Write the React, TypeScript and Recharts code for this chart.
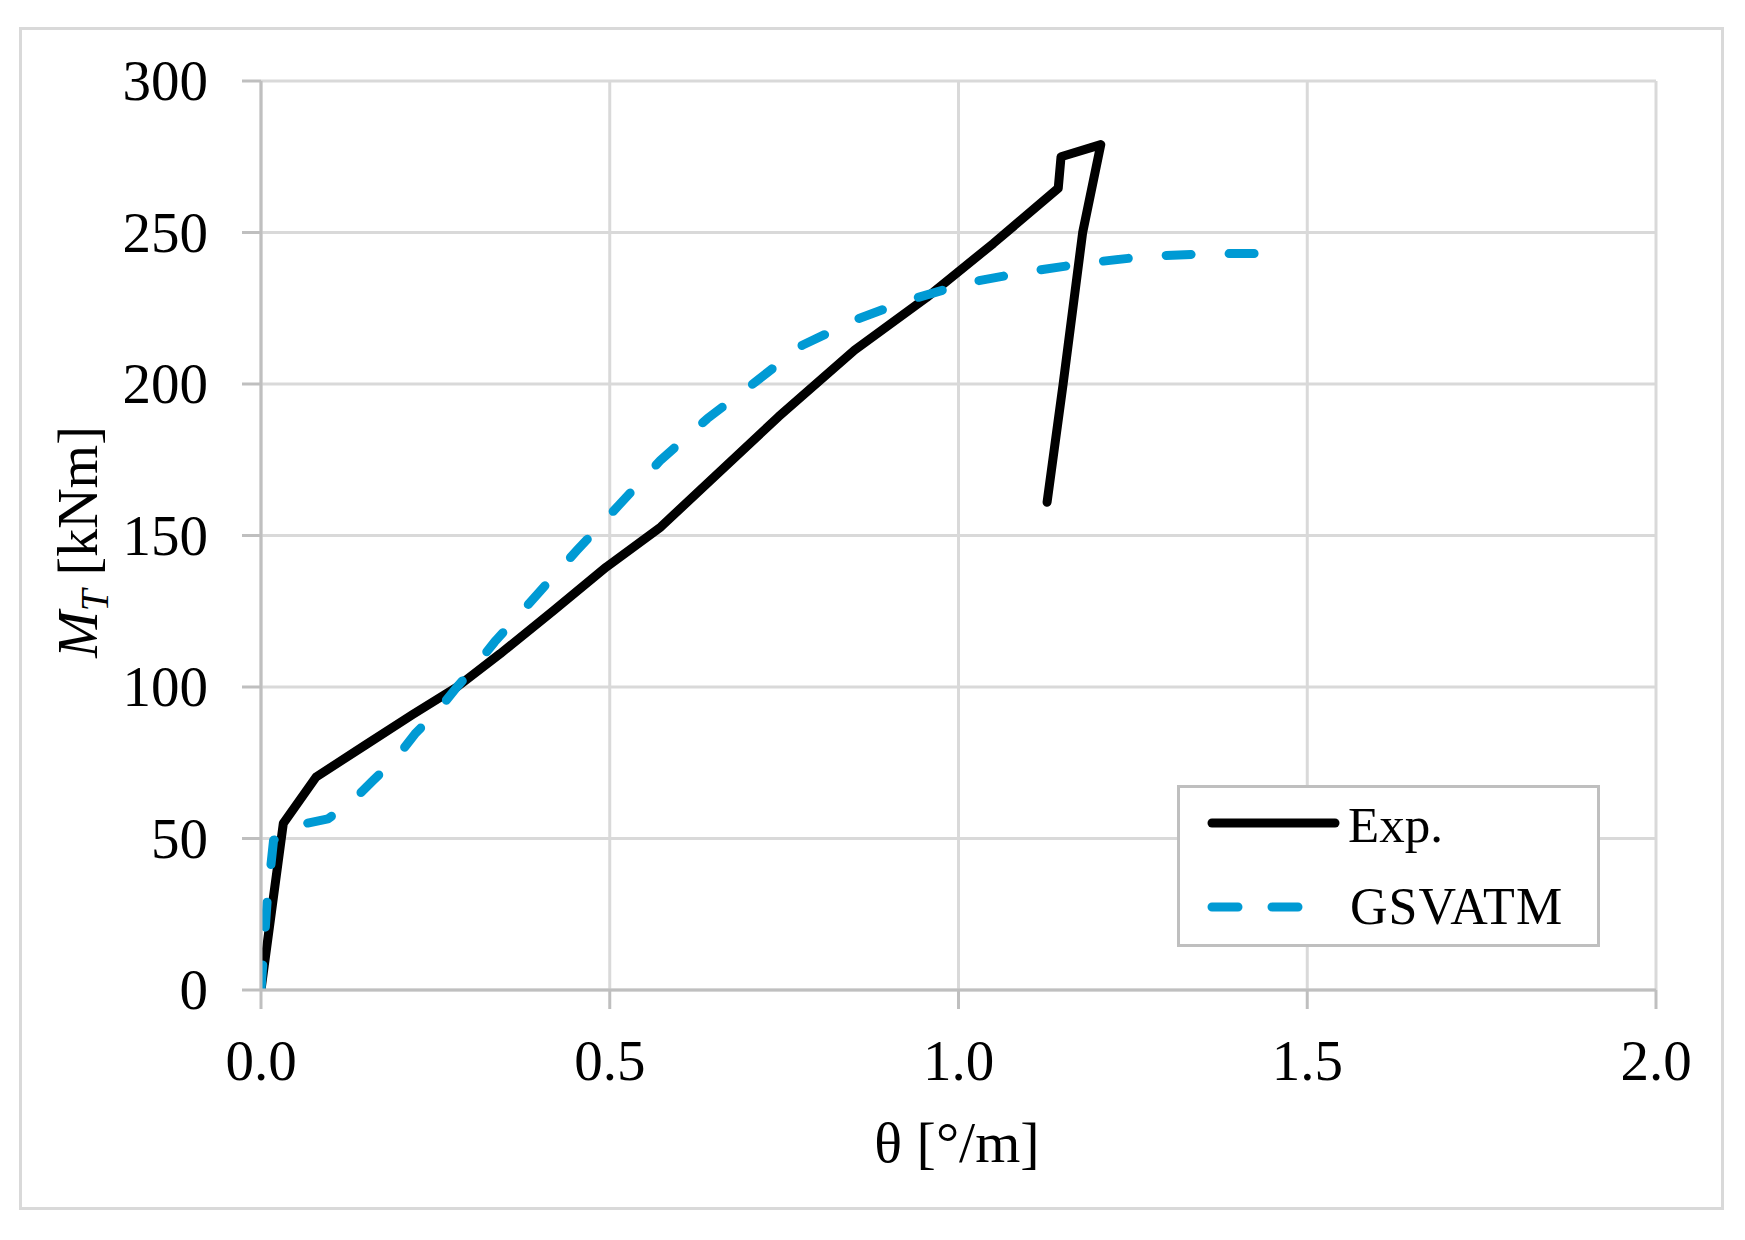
import React from "react";
import { LineChart, Line, XAxis, YAxis, CartesianGrid, Legend } from "recharts";

// axis ticks
const X_TICKS = [0, 0.5, 1, 1.5, 2];
const Y_TICKS = [0, 50, 100, 150, 200, 250, 300];

// Exp. curve (theta in deg/m, moment in kNm)
const expTheta = [
  0, 0.032, 0.079, 0.15, 0.218, 0.281, 0.343, 0.42, 0.495, 0.573, 0.65, 0.742,
  0.851, 0.954, 1.05, 1.143, 1.147, 1.204, 1.178, 1.15, 1.127,
];
const expMoment = [
  0, 55, 70.3, 80.9, 91, 100, 111, 125.3, 139.6, 152.8, 169.4, 189.2, 211.2,
  228.5, 246.4, 264.6, 275, 279, 250, 200, 161,
];

// GSVATM curve
const gsvTheta = [
  0, 0.006, 0.009, 0.018, 0.051, 0.096, 0.132, 0.161, 0.195, 0.221, 0.254,
  0.281, 0.314, 0.335, 0.395, 0.453, 0.513, 0.573, 0.64, 0.709, 0.776, 0.857,
  0.929, 1.015, 1.1, 1.186, 1.272, 1.36, 1.448,
];
const gsvMoment = [
  0, 20, 30, 49.4, 54.3, 56.5, 62.6, 69.2, 76.9, 84.6, 92.3, 100, 108.8, 114.9,
  130.3, 145.1, 160, 174.9, 188.6, 200.7, 212.8, 221.6, 227.7, 233.5, 237.1,
  240, 242.2, 243, 243.1,
];

const expData = expTheta.map((theta, i) => ({ theta, m: expMoment[i] }));
const gsvData = gsvTheta.map((theta, i) => ({ theta, m: gsvMoment[i] }));

const FONT = '"Liberation Serif", "Times New Roman", serif';
const BLUE = "#009AD4";
const GRID = "#D9D9D9";
const AXIS = "#BFBFBF";

function XTick({ x, y, payload }: any) {
  return (
    <text x={x} y={y} dy={71} textAnchor="middle" fontFamily={FONT} fontSize={57} fill="#000">
      {Number(payload.value).toFixed(1)}
    </text>
  );
}

function YTick({ x, y, payload }: any) {
  return (
    <text x={x} y={y} dx={-34} dy={19} textAnchor="end" fontFamily={FONT} fontSize={57} fill="#000">
      {payload.value}
    </text>
  );
}

function XTitle() {
  return (
    <text x={957} y={1162} textAnchor="middle" fontFamily={FONT} fontSize={58} fill="#000">
      θ [°/m]
    </text>
  );
}

function YTitle() {
  const cx = 97;
  const cy = 542;
  return (
    <text
      x={cx}
      y={cy}
      transform={`rotate(-90, ${cx}, ${cy})`}
      textAnchor="middle"
      fontFamily={FONT}
      fontSize={56}
      fill="#000"
    >
      <tspan fontStyle="italic">M</tspan>
      <tspan fontStyle="italic" fontSize={39} dy={11}>
        T
      </tspan>
      <tspan dy={-11}> [kNm]</tspan>
    </text>
  );
}

function LegendBox({ payload }: any) {
  const items = payload ?? [];
  return (
    <div
      style={{
        width: 423,
        height: 162,
        boxSizing: "border-box",
        border: `3px solid ${AXIS}`,
        background: "#fff",
      }}
    >
      <svg width={417} height={156} style={{ display: "block" }}>
        {items.map((item: any, i: number) => {
          const rowY = i === 0 ? 35 : 119;
          const dashed = i === 1;
          return (
            <g key={item.value}>
              <line
                x1={32}
                x2={dashed ? 124 : 155}
                y1={rowY}
                y2={rowY}
                stroke={item.color}
                strokeWidth={9}
                strokeLinecap="round"
                strokeDasharray={dashed ? "26 34" : undefined}
              />
              <text
                x={dashed ? 170 : 168}
                y={i === 0 ? 54 : 136}
                fontFamily={FONT}
                fontSize={i === 0 ? 51 : 52}
                letterSpacing={i === 0 ? 0 : 1}
                fill="#000"
              >
                {item.value}
              </text>
            </g>
          );
        })}
      </svg>
    </div>
  );
}

export default function App() {
  return (
    <div style={{ position: "absolute", left: 0, top: 0, width: 1745, height: 1240, background: "#fff" }}>
      <div
        style={{
          position: "absolute",
          left: 19,
          top: 27,
          width: 1705,
          height: 1183,
          boxSizing: "border-box",
          border: `3px solid ${GRID}`,
        }}
      />
      <div style={{ position: "absolute", left: 0, top: 0 }}>
        <LineChart width={1745} height={1240} margin={{ top: 81, right: 89, left: 0, bottom: 0 }}>
          <CartesianGrid stroke={GRID} strokeWidth={3} />
          <XAxis
            type="number"
            dataKey="theta"
            domain={[0, 2]}
            ticks={X_TICKS}
            allowDataOverflow
            height={250}
            tickSize={19}
            tickMargin={0}
            tick={<XTick />}
            tickLine={{ stroke: AXIS, strokeWidth: 3 }}
            axisLine={{ stroke: AXIS, strokeWidth: 3 }}
            label={<XTitle />}
          />
          <YAxis
            type="number"
            dataKey="m"
            domain={[0, 300]}
            ticks={Y_TICKS}
            allowDataOverflow
            width={261}
            tickSize={19}
            tickMargin={0}
            tick={<YTick />}
            tickLine={{ stroke: AXIS, strokeWidth: 3 }}
            axisLine={{ stroke: AXIS, strokeWidth: 3 }}
            label={<YTitle />}
          />
          <Legend
            layout="vertical"
            align="center"
            verticalAlign="middle"
            content={<LegendBox />}
            wrapperStyle={{ position: "absolute", left: 1177, top: 785, width: 423, height: 162 }}
          />
          <Line
            data={expData}
            dataKey="m"
            name="Exp."
            type="linear"
            stroke="#000"
            strokeWidth={9}
            strokeLinejoin="round"
            strokeLinecap="round"
            dot={false}
            activeDot={false}
            isAnimationActive={false}
          />
          <Line
            data={gsvData}
            dataKey="m"
            name="GSVATM"
            type="linear"
            stroke={BLUE}
            strokeWidth={9}
            strokeDasharray="25 38"
            strokeLinejoin="round"
            strokeLinecap="round"
            dot={false}
            activeDot={false}
            isAnimationActive={false}
          />
        </LineChart>
      </div>
    </div>
  );
}
